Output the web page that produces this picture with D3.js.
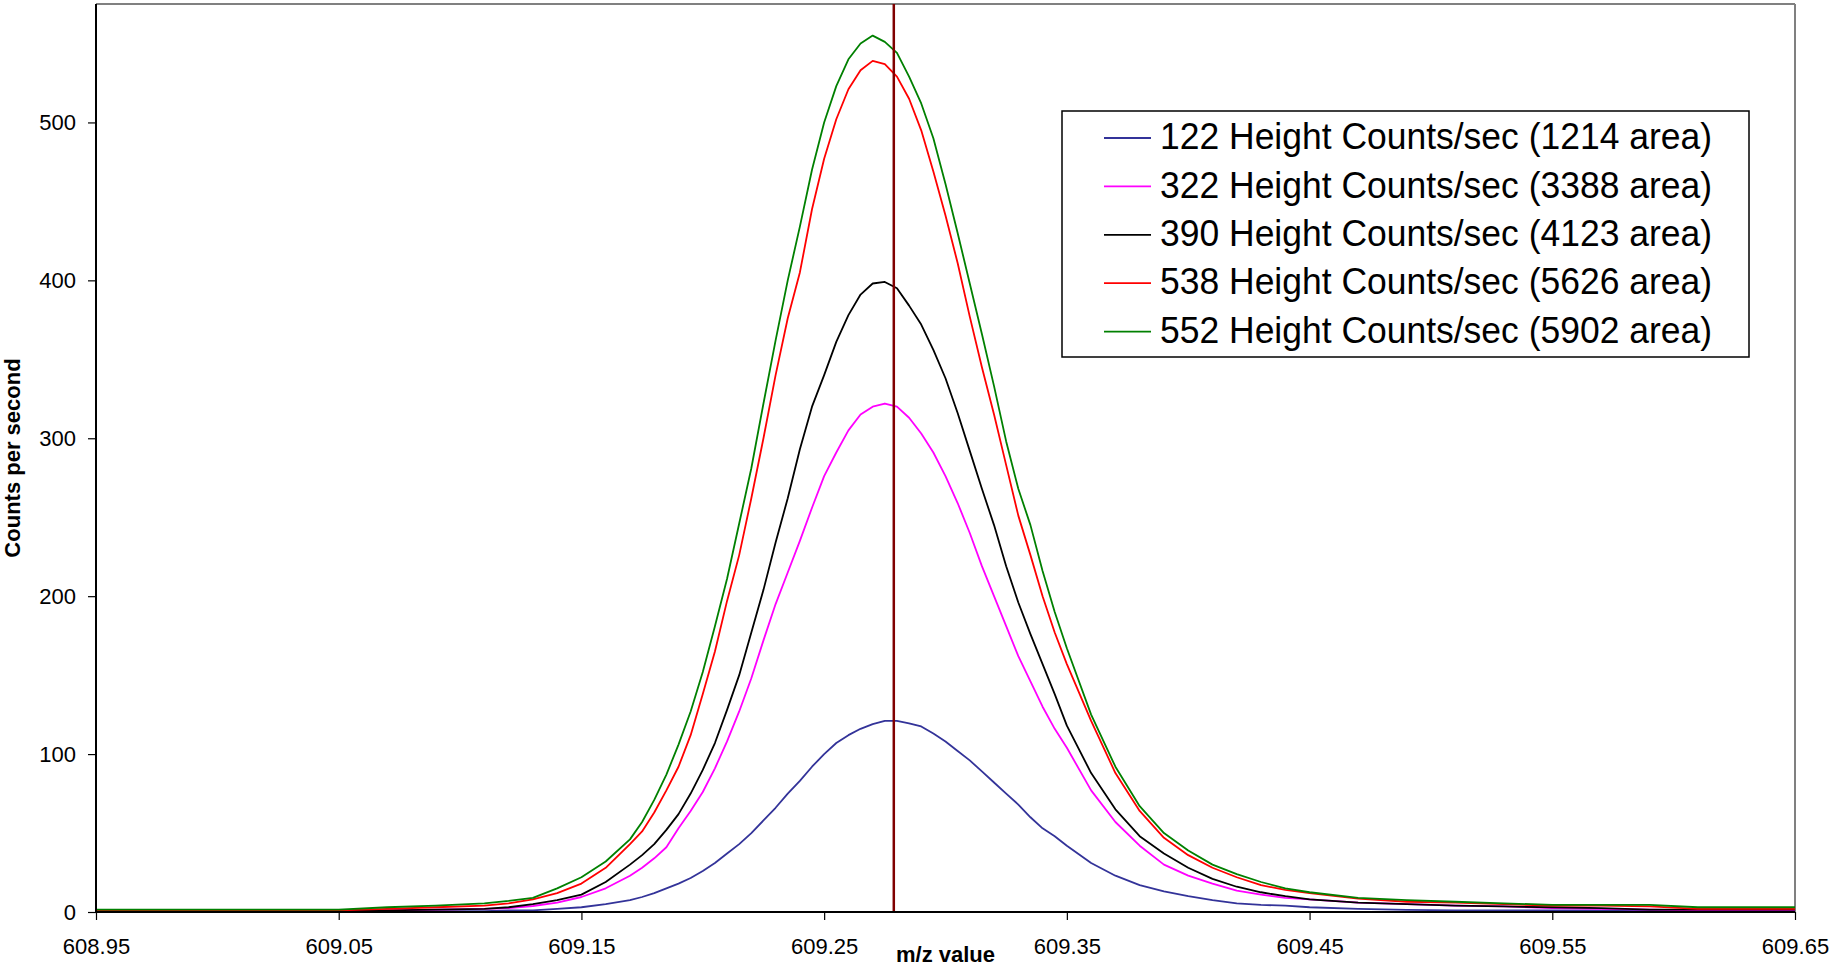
<!DOCTYPE html>
<html>
<head>
<meta charset="utf-8">
<script src="https://cdn.jsdelivr.net/npm/d3@7"></script>
<style>
	html, body { margin: 0; padding: 0; background: #fff; }
	svg { display: block; font-family: Arial, 'Liberation Sans', sans-serif; }
</style>
</head>
<body>
<svg id="chart" width="1832" height="966"></svg>
<script>
// m/z sample positions shared by every trace
const mz = [
	608.95, 608.97, 608.99, 609.01, 609.03, 609.05, 609.07, 609.09, 609.11, 609.12,
	609.13, 609.14, 609.15, 609.16, 609.17, 609.175, 609.18, 609.185, 609.19, 609.195,
	609.20, 609.205, 609.21, 609.215, 609.22, 609.225, 609.23, 609.235, 609.24, 609.245,
	609.25, 609.255, 609.26, 609.265, 609.27, 609.275, 609.28, 609.285, 609.29, 609.295,
	609.30, 609.305, 609.31, 609.315, 609.32, 609.325, 609.33, 609.335, 609.34, 609.345,
	609.35, 609.36, 609.37, 609.38, 609.39, 609.40, 609.41, 609.42, 609.43, 609.44,
	609.45, 609.47, 609.49, 609.51, 609.53, 609.55, 609.57, 609.59, 609.61, 609.63,
	609.65
]

const cps122 = [
	0.5, 0.5, 0.5, 0.5, 0.5, 0.5, 0.5, 0.5, 0.5, 1,
	1, 2, 3, 5, 7.5, 9.5, 12, 15, 18, 21.5,
	26, 31, 37, 43, 50, 58, 66, 75, 83, 92,
	100, 107, 112, 116, 119, 121, 121, 119.5, 117.5, 113,
	108, 102, 96, 89, 82, 75, 68, 60, 53, 48,
	42, 31, 23, 17, 13, 10, 7.5, 5.5, 4.5, 4,
	3, 2, 1.3, 1, 1, 1, 1, 1, 1, 1,
	1
]
const cps322 = [
	0.5, 1, 0.5, 0.5, 0.5, 0.5, 1, 1.5, 2, 2.5,
	3.8, 6, 9.5, 15, 23, 28, 34, 41, 53, 64,
	76, 91, 108, 127, 148, 172, 195, 215, 235, 256,
	276, 291, 305, 315, 320, 322, 320, 313, 303, 291,
	276, 259, 240, 219, 200, 181, 162, 146, 130, 116,
	104, 77, 57, 42, 30, 23, 18, 13.5, 11, 9,
	8, 6, 5, 4, 3.5, 2.5, 2, 1.5, 1, 1,
	1
]
const cps390 = [
	1, 1, 1, 1, 1, 1, 1, 1.5, 2, 3,
	5, 7.5, 11, 19, 30, 36, 43, 52, 62, 75,
	90, 107, 128, 150, 177, 204, 234, 262, 293, 320,
	340, 361, 378, 391, 398, 399, 395, 384, 372, 356,
	338, 316, 292, 268, 245, 219, 196, 176, 157, 138,
	118, 88, 65, 48, 37, 28, 21, 16, 12.5, 10,
	8, 6, 5, 4, 3.5, 3, 2.5, 1.5, 1.5, 1.5,
	1.5
]
const cps538 = [
	1, 1, 1, 1, 1, 1, 2, 3, 4, 5.5,
	8, 12, 18, 28, 43, 51, 63, 77, 92, 112,
	138, 165, 197, 226, 262, 300, 340, 376, 405, 445,
	477, 502, 521, 533, 539, 537, 529, 515, 495, 469,
	441, 411, 377, 345, 315, 283, 251, 226, 200, 177,
	157, 121, 88, 64, 47, 36, 28, 22, 17, 14,
	12, 8.5, 6.5, 6, 5, 4, 4, 3.5, 2, 2,
	2
]
const cps552 = [
	1.5, 1.5, 1.5, 1.5, 1.5, 1.5, 3, 4, 5.5, 7,
	9, 15, 22, 32, 46, 57, 71, 87, 106, 127,
	152, 181, 211, 246, 281, 322, 362, 400, 434, 470,
	500, 523, 540, 550, 555, 551, 544, 529, 512, 490,
	461, 430, 398, 366, 333, 298, 268, 245, 216, 190,
	167, 125, 92, 67, 50, 39, 30, 24, 19, 15,
	12.5, 9, 7.5, 6.5, 5.5, 4.5, 4.5, 4.5, 3, 3,
	3
]

const legendLabels = [
	'122 Height Counts/sec (1214 area)',
	'322 Height Counts/sec (3388 area)',
	'390 Height Counts/sec (4123 area)',
	'538 Height Counts/sec (5626 area)',
	'552 Height Counts/sec (5902 area)'
]
const seriesValues = [cps122, cps322, cps390, cps538, cps552]
const seriesColors = ['#333399', '#ff00ff', '#000000', '#ff0000', '#008000']

const xTicks = [608.95, 609.05, 609.15, 609.25, 609.35, 609.45, 609.55, 609.65]
const yTicks = [0, 100, 200, 300, 400, 500]
const markerMz = 609.2787

const width = 1832, height = 966
const padding = { top: 4, right: 37, bottom: 54, left: 96 }
const plotW = width - padding.left - padding.right,
	plotH = height - padding.top - padding.bottom

const scaleX = d3.scaleLinear().domain([608.95, 609.65]).range([0, plotW])
const scaleY = d3.scaleLinear().domain([0, 575]).range([plotH, 0])

const svg = d3.select('#chart')
const g = svg.append('g').attr('transform', `translate(${padding.left},${padding.top})`)

// frame: top and right edges are grey, axes are black
g.append('line').attr('x1', 0).attr('x2', plotW).attr('y1', 0).attr('y2', 0)
	.attr('stroke', '#808080').attr('stroke-width', 2)
g.append('line').attr('x1', plotW).attr('x2', plotW).attr('y1', 0).attr('y2', plotH)
	.attr('stroke', '#808080').attr('stroke-width', 2)

let line = d3.line()
	.x((d, i) => scaleX(mz[i]))
	.y((d) => scaleY(d))

seriesValues.forEach((vals, k) => {
	g.append('path')
		.attr('d', line(vals))
		.attr('fill', 'none')
		.attr('stroke', seriesColors[k])
		.attr('stroke-width', 1.8)
		.attr('stroke-linejoin', 'round')
})

// vertical marker
g.append('line')
	.attr('x1', scaleX(markerMz)).attr('x2', scaleX(markerMz))
	.attr('y1', 0).attr('y2', plotH)
	.attr('stroke', '#800000').attr('stroke-width', 2.5)

let yAxis = g.append('g')
	.call(d3.axisLeft(scaleY).tickValues(yTicks).tickSize(8).tickPadding(12).tickFormat(d3.format('d')))
let xAxis = g.append('g')
	.attr('transform', `translate(0,${plotH})`)
	.call(d3.axisBottom(scaleX).tickValues(xTicks).tickSize(8).tickPadding(18).tickFormat(d3.format('.2f')))

;[yAxis, xAxis].forEach(ax => {
	ax.select('.domain').attr('stroke', '#000').attr('stroke-width', 2)
	ax.selectAll('.tick line').attr('stroke', '#000').attr('stroke-width', 1.2)
	ax.selectAll('.tick text')
		.attr('fill', '#000')
		.style('font-family', "Arial, 'Liberation Sans', sans-serif")
		.style('font-size', '22px')
})
// axisLeft domain draws outer ticks; keep it a plain line
yAxis.select('.domain').attr('d', `M0,0V${plotH}`)
xAxis.select('.domain').attr('d', `M0,0H${plotW}`)

svg.append('text')
	.attr('x', padding.left + plotW / 2)
	.attr('y', 962)
	.attr('text-anchor', 'middle')
	.attr('font-size', 22)
	.attr('font-weight', 'bold')
	.text('m/z value')

svg.append('text')
	.attr('transform', `translate(20,${padding.top + plotH / 2}) rotate(-90)`)
	.attr('text-anchor', 'middle')
	.attr('font-size', 22)
	.attr('font-weight', 'bold')
	.text('Counts per second')

// legend
const legend = svg.append('g').attr('transform', 'translate(1062,111)')
legend.append('rect')
	.attr('width', 687).attr('height', 246)
	.attr('fill', '#fff').attr('stroke', '#000').attr('stroke-width', 1.5)
legendLabels.forEach((label, i) => {
	let row = legend.append('g').attr('transform', `translate(0,${27 + i * 48.4})`)
	row.append('line')
		.attr('x1', 42).attr('x2', 89)
		.attr('stroke', seriesColors[i]).attr('stroke-width', 1.8)
	row.append('text')
		.attr('x', 98)
		.attr('dy', '0.3em')
		.attr('font-size', 37)
		.attr('textLength', 552)
		.attr('lengthAdjust', 'spacingAndGlyphs')
		.attr('fill', '#000')
		.text(label)
})
</script>
</body>
</html>
